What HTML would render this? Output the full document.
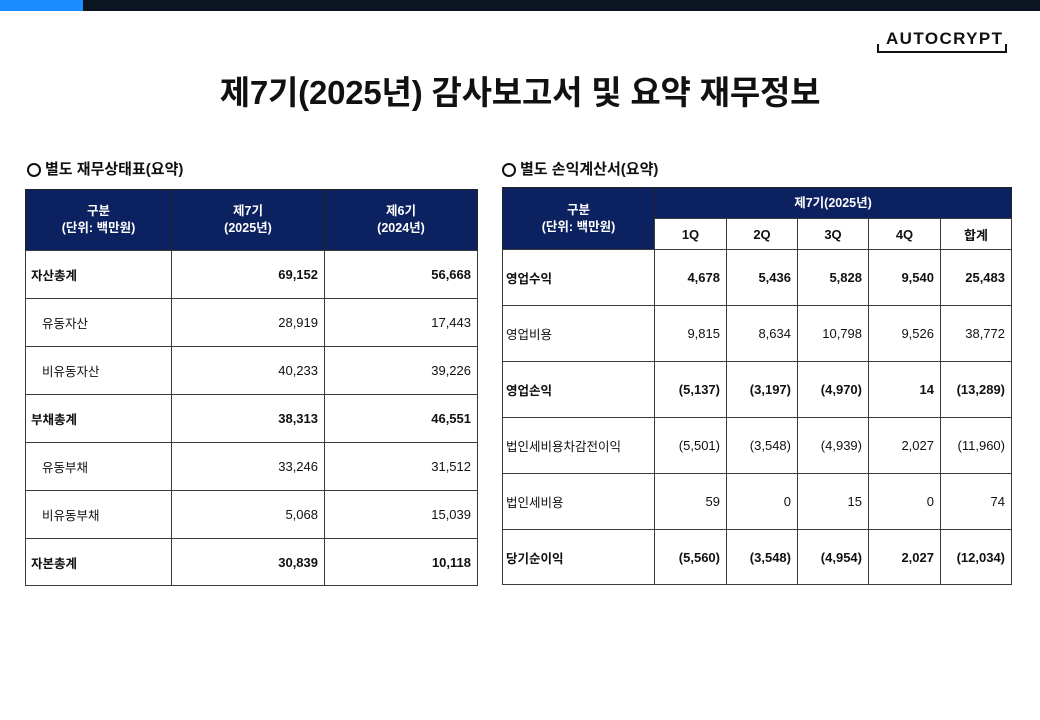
<!DOCTYPE html>
<html>
<head>
<meta charset="utf-8">
<style>
  html,body{margin:0;padding:0;}
  body{width:1040px;height:720px;position:relative;background:#fff;overflow:hidden;
       font-family:"Liberation Sans","Noto Sans CJK KR",sans-serif;color:#111;}
  .bar{position:absolute;left:0;top:0;width:1040px;height:11px;background:#0b1522;}
  .bar i{position:absolute;left:0;top:0;width:83px;height:11px;background:#1a8cff;}
  .logo{position:absolute;left:886px;top:29px;font-size:17px;font-weight:bold;letter-spacing:1.4px;line-height:20px;color:#111;}
  .brk{position:absolute;left:877px;top:44px;width:126px;height:7px;border:2px solid #111;border-top:none;}
  .title{position:absolute;left:0;top:71px;width:1040px;text-align:center;font-size:33px;font-weight:bold;line-height:44px;letter-spacing:-0.2px;color:#111;
         font-family:"Liberation Sans","Noto Sans CJK KR",sans-serif;}
  .h2{position:absolute;font-size:15px;font-weight:bold;line-height:18px;color:#111;}
  .h2 .o{position:absolute;left:0;top:2px;width:10px;height:10px;border:2px solid #111;border-radius:50%;}
  .h2 span.t{position:absolute;white-space:nowrap;}
  .c{position:absolute;box-sizing:border-box;border:1px solid #3a3a3a;display:flex;align-items:center;font-size:13px;background:#fff;white-space:nowrap;}
  .hd{background:#0c215f;color:#fff;justify-content:center;text-align:center;font-size:12.5px;font-weight:bold;line-height:17px;border-color:#222;}
  .sub{justify-content:center;font-weight:bold;font-size:13px;}
  .l{justify-content:flex-start;padding-left:5px;font-size:12.5px;}
  .l.in{padding-left:16px;}
  .rl{justify-content:flex-start;padding-left:3px;font-size:12.5px;}
  .n{justify-content:flex-end;padding-right:6px;}
  .b{font-weight:bold;}
</style>
</head>
<body>
<div class="bar"><i></i></div>
<div class="logo">AUTOCRYPT</div>
<div class="brk"></div>
<div class="title">제7기(2025년) 감사보고서 및 요약 재무정보</div>

<div class="h2" style="left:27px;top:161px;"><span class="o"></span><span class="t" style="left:18px;">별도 재무상태표(요약)</span></div>
<div class="h2" style="left:502px;top:161px;"><span class="o"></span><span class="t" style="left:18px;">별도 손익계산서(요약)</span></div>

<!-- Left table -->
<div class="c hd" style="left:25px;top:189px;width:147px;height:62px;">구분<br>(단위: 백만원)</div>
<div class="c hd" style="left:171px;top:189px;width:154px;height:62px;">제7기<br>(2025년)</div>
<div class="c hd" style="left:324px;top:189px;width:154px;height:62px;">제6기<br>(2024년)</div>

<div class="c l b" style="left:25px;top:250px;width:147px;height:49px;">자산총계</div>
<div class="c n b" style="left:171px;top:250px;width:154px;height:49px;">69,152</div>
<div class="c n b" style="left:324px;top:250px;width:154px;height:49px;">56,668</div>

<div class="c l in" style="left:25px;top:298px;width:147px;height:49px;">유동자산</div>
<div class="c n" style="left:171px;top:298px;width:154px;height:49px;">28,919</div>
<div class="c n" style="left:324px;top:298px;width:154px;height:49px;">17,443</div>

<div class="c l in" style="left:25px;top:346px;width:147px;height:49px;">비유동자산</div>
<div class="c n" style="left:171px;top:346px;width:154px;height:49px;">40,233</div>
<div class="c n" style="left:324px;top:346px;width:154px;height:49px;">39,226</div>

<div class="c l b" style="left:25px;top:394px;width:147px;height:49px;">부채총계</div>
<div class="c n b" style="left:171px;top:394px;width:154px;height:49px;">38,313</div>
<div class="c n b" style="left:324px;top:394px;width:154px;height:49px;">46,551</div>

<div class="c l in" style="left:25px;top:442px;width:147px;height:49px;">유동부채</div>
<div class="c n" style="left:171px;top:442px;width:154px;height:49px;">33,246</div>
<div class="c n" style="left:324px;top:442px;width:154px;height:49px;">31,512</div>

<div class="c l in" style="left:25px;top:490px;width:147px;height:49px;">비유동부채</div>
<div class="c n" style="left:171px;top:490px;width:154px;height:49px;">5,068</div>
<div class="c n" style="left:324px;top:490px;width:154px;height:49px;">15,039</div>

<div class="c l b" style="left:25px;top:538px;width:147px;height:48px;">자본총계</div>
<div class="c n b" style="left:171px;top:538px;width:154px;height:48px;">30,839</div>
<div class="c n b" style="left:324px;top:538px;width:154px;height:48px;">10,118</div>

<!-- Right table -->
<div class="c hd" style="left:502px;top:187px;width:153px;height:63px;">구분<br>(단위: 백만원)</div>
<div class="c hd" style="left:654px;top:187px;width:358px;height:32px;">제7기(2025년)</div>
<div class="c sub" style="left:654px;top:218px;width:73px;height:32px;">1Q</div>
<div class="c sub" style="left:726px;top:218px;width:72px;height:32px;">2Q</div>
<div class="c sub" style="left:797px;top:218px;width:72px;height:32px;">3Q</div>
<div class="c sub" style="left:868px;top:218px;width:73px;height:32px;">4Q</div>
<div class="c sub" style="left:940px;top:218px;width:72px;height:32px;">합계</div>

<!-- row 1 -->
<div class="c rl b" style="left:502px;top:249px;width:153px;height:57px;">영업수익</div>
<div class="c n b" style="left:654px;top:249px;width:73px;height:57px;">4,678</div>
<div class="c n b" style="left:726px;top:249px;width:72px;height:57px;">5,436</div>
<div class="c n b" style="left:797px;top:249px;width:72px;height:57px;">5,828</div>
<div class="c n b" style="left:868px;top:249px;width:73px;height:57px;">9,540</div>
<div class="c n b" style="left:940px;top:249px;width:72px;height:57px;">25,483</div>
<!-- row 2 -->
<div class="c rl" style="left:502px;top:305px;width:153px;height:57px;">영업비용</div>
<div class="c n" style="left:654px;top:305px;width:73px;height:57px;">9,815</div>
<div class="c n" style="left:726px;top:305px;width:72px;height:57px;">8,634</div>
<div class="c n" style="left:797px;top:305px;width:72px;height:57px;">10,798</div>
<div class="c n" style="left:868px;top:305px;width:73px;height:57px;">9,526</div>
<div class="c n" style="left:940px;top:305px;width:72px;height:57px;">38,772</div>
<!-- row 3 -->
<div class="c rl b" style="left:502px;top:361px;width:153px;height:57px;">영업손익</div>
<div class="c n b" style="left:654px;top:361px;width:73px;height:57px;">(5,137)</div>
<div class="c n b" style="left:726px;top:361px;width:72px;height:57px;">(3,197)</div>
<div class="c n b" style="left:797px;top:361px;width:72px;height:57px;">(4,970)</div>
<div class="c n b" style="left:868px;top:361px;width:73px;height:57px;">14</div>
<div class="c n b" style="left:940px;top:361px;width:72px;height:57px;">(13,289)</div>
<!-- row 4 -->
<div class="c rl" style="left:502px;top:417px;width:153px;height:57px;">법인세비용차감전이익</div>
<div class="c n" style="left:654px;top:417px;width:73px;height:57px;">(5,501)</div>
<div class="c n" style="left:726px;top:417px;width:72px;height:57px;">(3,548)</div>
<div class="c n" style="left:797px;top:417px;width:72px;height:57px;">(4,939)</div>
<div class="c n" style="left:868px;top:417px;width:73px;height:57px;">2,027</div>
<div class="c n" style="left:940px;top:417px;width:72px;height:57px;">(11,960)</div>
<!-- row 5 -->
<div class="c rl" style="left:502px;top:473px;width:153px;height:57px;">법인세비용</div>
<div class="c n" style="left:654px;top:473px;width:73px;height:57px;">59</div>
<div class="c n" style="left:726px;top:473px;width:72px;height:57px;">0</div>
<div class="c n" style="left:797px;top:473px;width:72px;height:57px;">15</div>
<div class="c n" style="left:868px;top:473px;width:73px;height:57px;">0</div>
<div class="c n" style="left:940px;top:473px;width:72px;height:57px;">74</div>
<!-- row 6 -->
<div class="c rl b" style="left:502px;top:529px;width:153px;height:56px;">당기순이익</div>
<div class="c n b" style="left:654px;top:529px;width:73px;height:56px;">(5,560)</div>
<div class="c n b" style="left:726px;top:529px;width:72px;height:56px;">(3,548)</div>
<div class="c n b" style="left:797px;top:529px;width:72px;height:56px;">(4,954)</div>
<div class="c n b" style="left:868px;top:529px;width:73px;height:56px;">2,027</div>
<div class="c n b" style="left:940px;top:529px;width:72px;height:56px;">(12,034)</div>
</body>
</html>
